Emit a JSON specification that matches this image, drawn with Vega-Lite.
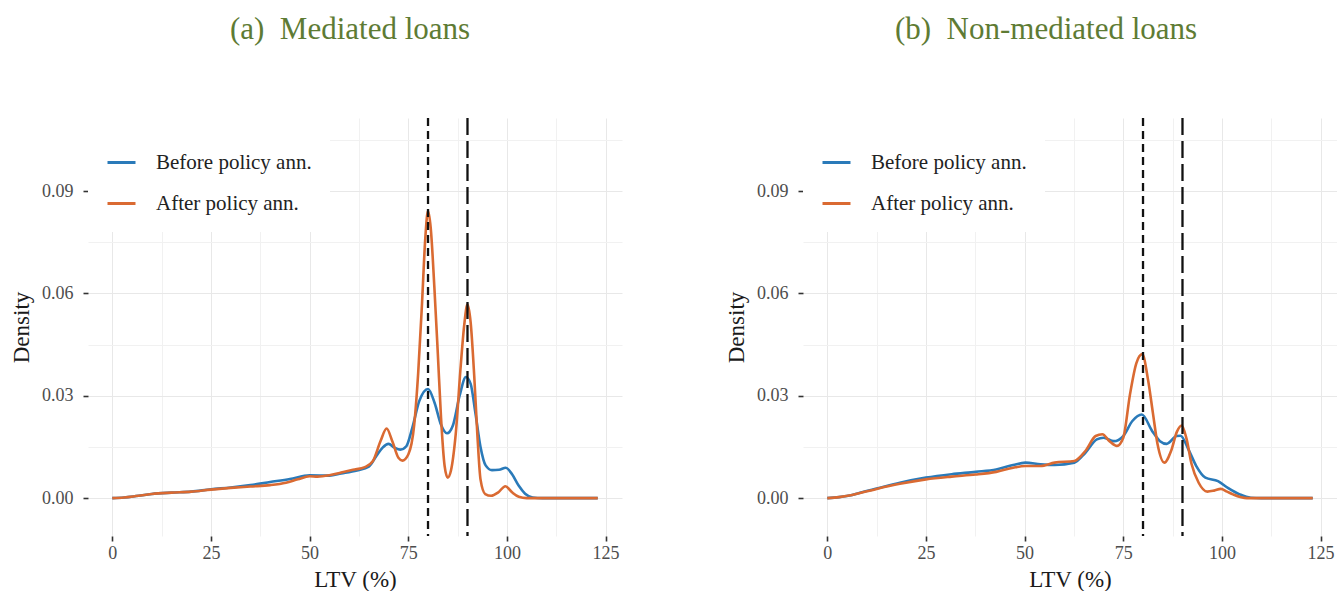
{
  "$schema": "https://vega.github.io/schema/vega-lite/v6.json",
  "padding": {"left": 10, "top": 13, "right": 0, "bottom": 0},
  "background": "white",
  "datasets": {
    "med": [
      {"ltv": 0, "density": 0, "period": "Before policy ann."},
      {"ltv": 3, "density": 0.0002, "period": "Before policy ann."},
      {"ltv": 6, "density": 0.0006, "period": "Before policy ann."},
      {"ltv": 10, "density": 0.0012, "period": "Before policy ann."},
      {"ltv": 15, "density": 0.0016, "period": "Before policy ann."},
      {"ltv": 20, "density": 0.0019, "period": "Before policy ann."},
      {"ltv": 25, "density": 0.0026, "period": "Before policy ann."},
      {"ltv": 30, "density": 0.0031, "period": "Before policy ann."},
      {"ltv": 35, "density": 0.0038, "period": "Before policy ann."},
      {"ltv": 40, "density": 0.0047, "period": "Before policy ann."},
      {"ltv": 45, "density": 0.0056, "period": "Before policy ann."},
      {"ltv": 50, "density": 0.0067, "period": "Before policy ann."},
      {"ltv": 55, "density": 0.0066, "period": "Before policy ann."},
      {"ltv": 58, "density": 0.0072, "period": "Before policy ann."},
      {"ltv": 62, "density": 0.0081, "period": "Before policy ann."},
      {"ltv": 65, "density": 0.0092, "period": "Before policy ann."},
      {"ltv": 67, "density": 0.0125, "period": "Before policy ann."},
      {"ltv": 68.5, "density": 0.0148, "period": "Before policy ann."},
      {"ltv": 70, "density": 0.0159, "period": "Before policy ann."},
      {"ltv": 71.5, "density": 0.0148, "period": "Before policy ann."},
      {"ltv": 73, "density": 0.0142, "period": "Before policy ann."},
      {"ltv": 74.5, "density": 0.0152, "period": "Before policy ann."},
      {"ltv": 76, "density": 0.0205, "period": "Before policy ann."},
      {"ltv": 77.8, "density": 0.0285, "period": "Before policy ann."},
      {"ltv": 80, "density": 0.032, "period": "Before policy ann."},
      {"ltv": 81.7, "density": 0.0278, "period": "Before policy ann."},
      {"ltv": 83.3, "density": 0.0215, "period": "Before policy ann."},
      {"ltv": 84.8, "density": 0.019, "period": "Before policy ann."},
      {"ltv": 86.3, "density": 0.0213, "period": "Before policy ann."},
      {"ltv": 88, "density": 0.03, "period": "Before policy ann."},
      {"ltv": 89.6, "density": 0.0355, "period": "Before policy ann."},
      {"ltv": 90.8, "density": 0.0335, "period": "Before policy ann."},
      {"ltv": 92, "density": 0.025, "period": "Before policy ann."},
      {"ltv": 93.3, "density": 0.015, "period": "Before policy ann."},
      {"ltv": 94.6, "density": 0.0096, "period": "Before policy ann."},
      {"ltv": 96.2, "density": 0.0082, "period": "Before policy ann."},
      {"ltv": 98, "density": 0.0083, "period": "Before policy ann."},
      {"ltv": 99.7, "density": 0.0089, "period": "Before policy ann."},
      {"ltv": 101.3, "density": 0.007, "period": "Before policy ann."},
      {"ltv": 103, "density": 0.0036, "period": "Before policy ann."},
      {"ltv": 104.6, "density": 0.0013, "period": "Before policy ann."},
      {"ltv": 106.5, "density": 0.0002, "period": "Before policy ann."},
      {"ltv": 109, "density": 0, "period": "Before policy ann."},
      {"ltv": 115, "density": 0, "period": "Before policy ann."},
      {"ltv": 123, "density": 0, "period": "Before policy ann."},
      {"ltv": 0, "density": 0, "period": "After policy ann."},
      {"ltv": 3, "density": 0.0002, "period": "After policy ann."},
      {"ltv": 6, "density": 0.0006, "period": "After policy ann."},
      {"ltv": 10, "density": 0.0012, "period": "After policy ann."},
      {"ltv": 15, "density": 0.0016, "period": "After policy ann."},
      {"ltv": 20, "density": 0.0019, "period": "After policy ann."},
      {"ltv": 25, "density": 0.0025, "period": "After policy ann."},
      {"ltv": 30, "density": 0.003, "period": "After policy ann."},
      {"ltv": 35, "density": 0.0034, "period": "After policy ann."},
      {"ltv": 40, "density": 0.0038, "period": "After policy ann."},
      {"ltv": 44, "density": 0.0045, "period": "After policy ann."},
      {"ltv": 47, "density": 0.0055, "period": "After policy ann."},
      {"ltv": 50, "density": 0.0064, "period": "After policy ann."},
      {"ltv": 52, "density": 0.0063, "period": "After policy ann."},
      {"ltv": 55, "density": 0.0067, "period": "After policy ann."},
      {"ltv": 58, "density": 0.0075, "period": "After policy ann."},
      {"ltv": 61, "density": 0.0083, "period": "After policy ann."},
      {"ltv": 64, "density": 0.0091, "period": "After policy ann."},
      {"ltv": 66, "density": 0.0108, "period": "After policy ann."},
      {"ltv": 68, "density": 0.0168, "period": "After policy ann."},
      {"ltv": 69.5, "density": 0.0204, "period": "After policy ann."},
      {"ltv": 71, "density": 0.0165, "period": "After policy ann."},
      {"ltv": 72.5, "density": 0.0118, "period": "After policy ann."},
      {"ltv": 73.5, "density": 0.011, "period": "After policy ann."},
      {"ltv": 75, "density": 0.0128, "period": "After policy ann."},
      {"ltv": 76.5, "density": 0.0215, "period": "After policy ann."},
      {"ltv": 77.5, "density": 0.0365, "period": "After policy ann."},
      {"ltv": 78.5, "density": 0.0575, "period": "After policy ann."},
      {"ltv": 79.3, "density": 0.076, "period": "After policy ann."},
      {"ltv": 80, "density": 0.0842, "period": "After policy ann."},
      {"ltv": 80.7, "density": 0.079, "period": "After policy ann."},
      {"ltv": 81.6, "density": 0.062, "period": "After policy ann."},
      {"ltv": 82.5, "density": 0.042, "period": "After policy ann."},
      {"ltv": 83.3, "density": 0.0235, "period": "After policy ann."},
      {"ltv": 84.2, "density": 0.0095, "period": "After policy ann."},
      {"ltv": 85, "density": 0.006, "period": "After policy ann."},
      {"ltv": 85.8, "density": 0.008, "period": "After policy ann."},
      {"ltv": 87, "density": 0.0185, "period": "After policy ann."},
      {"ltv": 88.3, "density": 0.039, "period": "After policy ann."},
      {"ltv": 89.2, "density": 0.051, "period": "After policy ann."},
      {"ltv": 90, "density": 0.0568, "period": "After policy ann."},
      {"ltv": 90.8, "density": 0.0515, "period": "After policy ann."},
      {"ltv": 91.7, "density": 0.036, "period": "After policy ann."},
      {"ltv": 92.5, "density": 0.0187, "period": "After policy ann."},
      {"ltv": 93.3, "density": 0.0055, "period": "After policy ann."},
      {"ltv": 94.5, "density": 0.0012, "period": "After policy ann."},
      {"ltv": 96, "density": 0.0007, "period": "After policy ann."},
      {"ltv": 97.8, "density": 0.0017, "period": "After policy ann."},
      {"ltv": 99.6, "density": 0.0035, "period": "After policy ann."},
      {"ltv": 101.3, "density": 0.0017, "period": "After policy ann."},
      {"ltv": 103, "density": 0.0004, "period": "After policy ann."},
      {"ltv": 105, "density": 0, "period": "After policy ann."},
      {"ltv": 110, "density": 0, "period": "After policy ann."},
      {"ltv": 116, "density": 0, "period": "After policy ann."},
      {"ltv": 123, "density": 0, "period": "After policy ann."}
    ],
    "non": [
      {"ltv": 0, "density": 0, "period": "Before policy ann."},
      {"ltv": 3, "density": 0.0003, "period": "Before policy ann."},
      {"ltv": 6.3, "density": 0.0009, "period": "Before policy ann."},
      {"ltv": 9, "density": 0.0018, "period": "Before policy ann."},
      {"ltv": 12.5, "density": 0.0028, "period": "Before policy ann."},
      {"ltv": 18.4, "density": 0.0045, "period": "Before policy ann."},
      {"ltv": 25, "density": 0.006, "period": "Before policy ann."},
      {"ltv": 31.5, "density": 0.007, "period": "Before policy ann."},
      {"ltv": 37.6, "density": 0.0077, "period": "Before policy ann."},
      {"ltv": 42.8, "density": 0.0084, "period": "Before policy ann."},
      {"ltv": 47.1, "density": 0.0097, "period": "Before policy ann."},
      {"ltv": 50.2, "density": 0.0104, "period": "Before policy ann."},
      {"ltv": 54, "density": 0.0099, "period": "Before policy ann."},
      {"ltv": 57.6, "density": 0.0097, "period": "Before policy ann."},
      {"ltv": 62.6, "density": 0.0104, "period": "Before policy ann."},
      {"ltv": 65.4, "density": 0.0133, "period": "Before policy ann."},
      {"ltv": 68.3, "density": 0.0172, "period": "Before policy ann."},
      {"ltv": 70, "density": 0.0177, "period": "Before policy ann."},
      {"ltv": 72.6, "density": 0.0167, "period": "Before policy ann."},
      {"ltv": 75, "density": 0.0182, "period": "Before policy ann."},
      {"ltv": 77.3, "density": 0.0226, "period": "Before policy ann."},
      {"ltv": 79.7, "density": 0.0245, "period": "Before policy ann."},
      {"ltv": 82.3, "density": 0.0197, "period": "Before policy ann."},
      {"ltv": 84.3, "density": 0.0167, "period": "Before policy ann."},
      {"ltv": 86, "density": 0.0159, "period": "Before policy ann."},
      {"ltv": 88.5, "density": 0.0182, "period": "Before policy ann."},
      {"ltv": 89.5, "density": 0.0183, "period": "Before policy ann."},
      {"ltv": 91.5, "density": 0.0143, "period": "Before policy ann."},
      {"ltv": 93.5, "density": 0.0094, "period": "Before policy ann."},
      {"ltv": 95.8, "density": 0.006, "period": "Before policy ann."},
      {"ltv": 99, "density": 0.005, "period": "Before policy ann."},
      {"ltv": 101.5, "density": 0.003, "period": "Before policy ann."},
      {"ltv": 104.5, "density": 0.0011, "period": "Before policy ann."},
      {"ltv": 107.3, "density": 0.0001, "period": "Before policy ann."},
      {"ltv": 110, "density": 0, "period": "Before policy ann."},
      {"ltv": 116, "density": 0, "period": "Before policy ann."},
      {"ltv": 123, "density": 0, "period": "Before policy ann."},
      {"ltv": 0, "density": 0, "period": "After policy ann."},
      {"ltv": 3, "density": 0.0003, "period": "After policy ann."},
      {"ltv": 6.3, "density": 0.0009, "period": "After policy ann."},
      {"ltv": 9, "density": 0.0017, "period": "After policy ann."},
      {"ltv": 12.5, "density": 0.0027, "period": "After policy ann."},
      {"ltv": 18.4, "density": 0.0042, "period": "After policy ann."},
      {"ltv": 25, "density": 0.0055, "period": "After policy ann."},
      {"ltv": 31.5, "density": 0.0063, "period": "After policy ann."},
      {"ltv": 37.6, "density": 0.0069, "period": "After policy ann."},
      {"ltv": 42.8, "density": 0.0077, "period": "After policy ann."},
      {"ltv": 47.1, "density": 0.0089, "period": "After policy ann."},
      {"ltv": 50.2, "density": 0.0094, "period": "After policy ann."},
      {"ltv": 54, "density": 0.0094, "period": "After policy ann."},
      {"ltv": 57.6, "density": 0.0104, "period": "After policy ann."},
      {"ltv": 62.6, "density": 0.0109, "period": "After policy ann."},
      {"ltv": 65.4, "density": 0.0138, "period": "After policy ann."},
      {"ltv": 68, "density": 0.0182, "period": "After policy ann."},
      {"ltv": 69.7, "density": 0.0187, "period": "After policy ann."},
      {"ltv": 71.5, "density": 0.0167, "period": "After policy ann."},
      {"ltv": 73.4, "density": 0.0153, "period": "After policy ann."},
      {"ltv": 75, "density": 0.0177, "period": "After policy ann."},
      {"ltv": 76.7, "density": 0.0304, "period": "After policy ann."},
      {"ltv": 78.3, "density": 0.0395, "period": "After policy ann."},
      {"ltv": 79.8, "density": 0.0422, "period": "After policy ann."},
      {"ltv": 81.3, "density": 0.0345, "period": "After policy ann."},
      {"ltv": 82.5, "density": 0.025, "period": "After policy ann."},
      {"ltv": 83.7, "density": 0.0157, "period": "After policy ann."},
      {"ltv": 85.4, "density": 0.0104, "period": "After policy ann."},
      {"ltv": 87.1, "density": 0.0138, "period": "After policy ann."},
      {"ltv": 88.6, "density": 0.0195, "period": "After policy ann."},
      {"ltv": 89.8, "density": 0.0213, "period": "After policy ann."},
      {"ltv": 91, "density": 0.0175, "period": "After policy ann."},
      {"ltv": 92.3, "density": 0.01, "period": "After policy ann."},
      {"ltv": 94.1, "density": 0.0045, "period": "After policy ann."},
      {"ltv": 96.3, "density": 0.0019, "period": "After policy ann."},
      {"ltv": 98, "density": 0.0022, "period": "After policy ann."},
      {"ltv": 99.7, "density": 0.0027, "period": "After policy ann."},
      {"ltv": 101.3, "density": 0.0019, "period": "After policy ann."},
      {"ltv": 102.8, "density": 0.0011, "period": "After policy ann."},
      {"ltv": 106.3, "density": 0, "period": "After policy ann."},
      {"ltv": 110, "density": 0, "period": "After policy ann."},
      {"ltv": 116, "density": 0, "period": "After policy ann."},
      {"ltv": 123, "density": 0, "period": "After policy ann."}
    ],
    "vl": [
      {"ltv": 80, "kind": "a"},
      {"ltv": 90, "kind": "b"}
    ]
  },
  "hconcat": [
    {
      "width": 534,
      "height": 418,
      "title": {"text": "(a)\u00a0\u00a0Mediated loans", "dx": -5},
      "layer": [
        {
          "data": {"name": "med"},
          "mark": {"type": "line", "interpolate": "monotone", "strokeWidth": 2.6},
          "encoding": {
            "x": {"field": "ltv", "type": "quantitative", "title": "LTV (%)",
              "scale": {"domain": [-6.15, 129.15], "nice": false, "zero": false},
              "axis": {"values": [0, 12.5, 25, 37.5, 50, 62.5, 75, 87.5, 100, 112.5, 125], "labelOverlap": false, "labelFlush": false, "labelBound": false}},
            "y": {"field": "density", "type": "quantitative", "title": "Density",
              "scale": {"domain": [-0.0111, 0.1114], "nice": false, "zero": false},
              "axis": {"values": [0, 0.015, 0.03, 0.045, 0.06, 0.075, 0.09, 0.105], "format": ".2f", "labelOverlap": false, "labelFlush": false}},
            "color": {"field": "period", "type": "nominal",
              "scale": {"domain": ["Before policy ann.", "After policy ann."], "range": ["#2a7ab9", "#da6a32"]},
              "legend": {"orient": "top-left", "title": "\u00a0", "titleFontSize": 11, "titlePadding": 0}}
          }
        },
        {
          "data": {"name": "vl"},
          "mark": {"type": "rule", "strokeWidth": 2.3, "color": "#111111"},
          "encoding": {
            "x": {"field": "ltv", "type": "quantitative"},
            "strokeDash": {"field": "kind", "type": "nominal",
              "scale": {"domain": ["a", "b"], "range": [[8, 5], [17, 6]]}, "legend": null}
          }
        }
      ]
    },
    {
      "width": 534,
      "height": 418,
      "title": {"text": "(b)\u00a0\u00a0Non-mediated loans", "dx": -24},
      "layer": [
        {
          "data": {"name": "non"},
          "mark": {"type": "line", "interpolate": "monotone", "strokeWidth": 2.6},
          "encoding": {
            "x": {"field": "ltv", "type": "quantitative", "title": "LTV (%)",
              "scale": {"domain": [-6.15, 129.15], "nice": false, "zero": false},
              "axis": {"values": [0, 12.5, 25, 37.5, 50, 62.5, 75, 87.5, 100, 112.5, 125], "labelOverlap": false, "labelFlush": false, "labelBound": false}},
            "y": {"field": "density", "type": "quantitative", "title": "Density",
              "scale": {"domain": [-0.0111, 0.1114], "nice": false, "zero": false},
              "axis": {"values": [0, 0.015, 0.03, 0.045, 0.06, 0.075, 0.09, 0.105], "format": ".2f", "labelOverlap": false, "labelFlush": false}},
            "color": {"field": "period", "type": "nominal",
              "scale": {"domain": ["Before policy ann.", "After policy ann."], "range": ["#2a7ab9", "#da6a32"]},
              "legend": {"orient": "top-left", "title": "\u00a0", "titleFontSize": 11, "titlePadding": 0}}
          }
        },
        {
          "data": {"name": "vl"},
          "mark": {"type": "rule", "strokeWidth": 2.3, "color": "#111111"},
          "encoding": {
            "x": {"field": "ltv", "type": "quantitative"},
            "strokeDash": {"field": "kind", "type": "nominal",
              "scale": {"domain": ["a", "b"], "range": [[8, 5], [17, 6]]}, "legend": null}
          }
        }
      ]
    }
  ],
  "resolve": {"legend": {"color": "independent"}},
  "spacing": 103,
  "config": {
    "view": {"stroke": null},
    "font": "Liberation Serif",
    "title": {"font": "Liberation Serif", "fontSize": 31, "fontWeight": "normal", "color": "#5e7b34", "anchor": "middle", "offset": 71},
    "axis": {
      "domain": false,
      "labelFont": "Liberation Serif",
      "titleFont": "Liberation Serif",
      "labelFontSize": 18,
      "titleFontSize": 23,
      "labelColor": "#4d4d4d",
      "titleColor": "#1a1a1a",
      "titleFontWeight": "normal",
      "tickColor": "#333333",
      "tickWidth": 1.6,
      "tickSize": 5,
      "grid": true,
      "gridWidth": 1,
      "labelOverlap": false
    },
    "axisX": {
      "labelExpr": "indexof([0, 25, 50, 75, 100, 125], datum.value) >= 0 ? datum.label : ''",
      "tickOpacity": {"condition": {"test": "indexof([0, 25, 50, 75, 100, 125], datum.value) < 0", "value": 0}, "value": 1},
      "gridColor": {"condition": {"test": "indexof([0, 25, 50, 75, 100, 125], datum.value) < 0", "value": "#f1f1f1"}, "value": "#e8e8e8"},
      "labelPadding": 3,
      "titlePadding": 6
    },
    "axisY": {
      "labelExpr": "indexof([0, 0.03, 0.06, 0.09], datum.value) >= 0 ? datum.label : ''",
      "tickOpacity": {"condition": {"test": "indexof([0, 0.03, 0.06, 0.09], datum.value) < 0", "value": 0}, "value": 1},
      "gridColor": {"condition": {"test": "indexof([0, 0.03, 0.06, 0.09], datum.value) < 0", "value": "#f1f1f1"}, "value": "#e8e8e8"},
      "labelPadding": 10,
      "titlePadding": 8
    },
    "legend": {
      "orient": "top-left",
      "offset": 0,
      "padding": 18,
      "fillColor": "white",
      "labelFont": "Liberation Serif",
      "labelFontSize": 21,
      "labelColor": "#222222",
      "labelOffset": 19,
      "symbolType": "stroke",
      "symbolSize": 784,
      "symbolStrokeWidth": 3,
      "rowPadding": 15,
      "labelLimit": 300
    }
  }
}
